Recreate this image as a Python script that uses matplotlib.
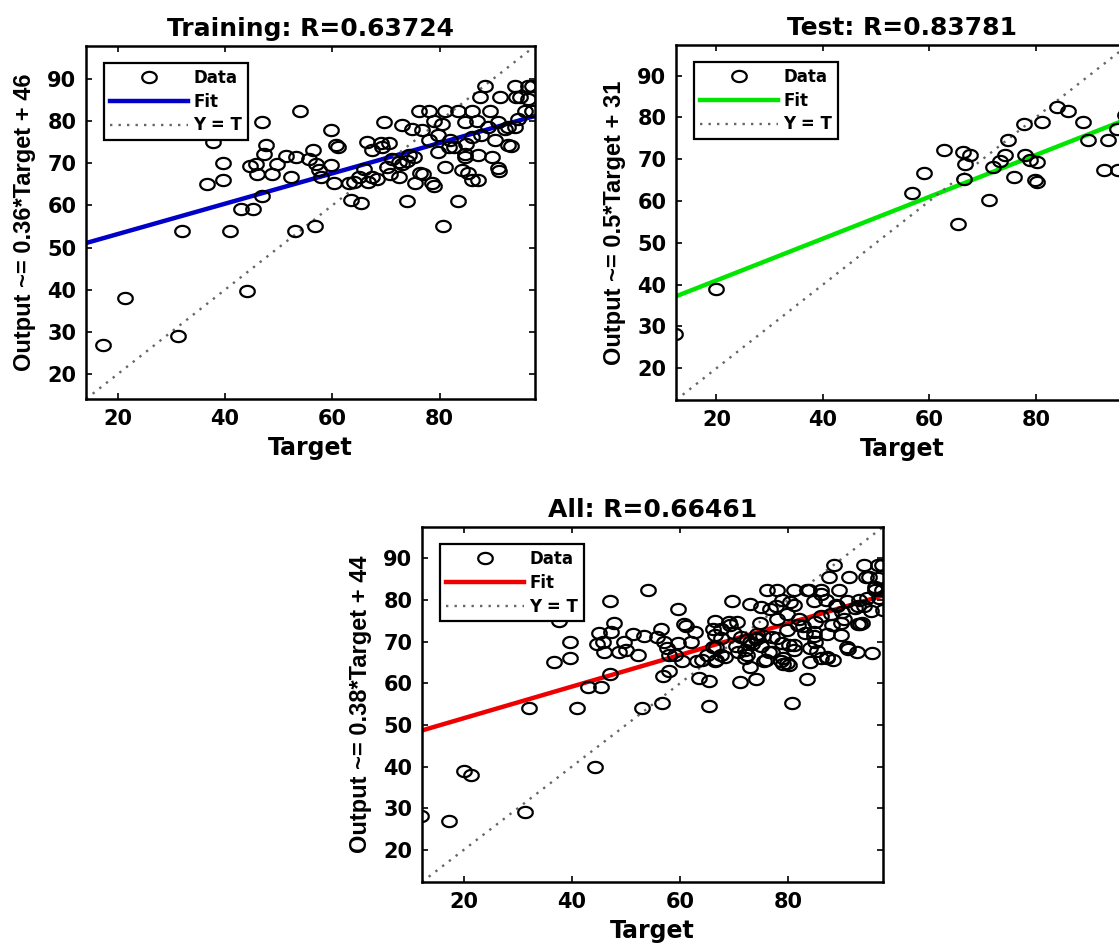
import numpy as np
import matplotlib

matplotlib.use('Agg')
from matplotlib import pyplot as plt  # noqa: E402

# training set (target, output)
train_target = [17.3, 21.3, 31.3, 32.0, 44.2, 41.0, 36.7, 37.7, 39.7, 39.7,
                43.0, 45.3, 47.0, 47.0, 47.7, 47.3, 44.7, 45.7, 46.0, 48.7,
                49.7, 51.3, 53.3, 52.3, 54.0, 53.0, 56.7, 55.7, 56.4, 57.0,
                57.6, 58.0, 59.7, 60.7, 59.7, 60.3, 63.5, 63.1, 65.3, 65.0,
                66.5, 66.0, 67.5, 67.5, 66.7, 69.0, 69.6, 70.6, 69.3, 70.3,
                70.7, 71.2, 72.4, 72.4, 73.0, 74.0, 74.3, 74.9, 75.3, 75.5,
                76.1, 76.4, 76.7, 78.0, 78.0, 78.6, 78.9, 79.0, 79.8, 79.8,
                80.4, 80.7, 81.0, 81.0, 81.7, 82.0, 83.5, 83.5, 84.1, 84.7,
                84.7, 84.8, 85.3, 86.0, 86.0, 86.0, 86.9, 87.2, 87.2, 87.5,
                87.8, 88.5, 89.4, 89.7, 90.3, 90.9, 90.9, 91.2, 92.3, 92.8,
                92.8, 93.3, 94.0, 94.3, 94.6, 95.0, 96.0, 96.5, 96.5, 97.3,
                97.3, 91.0, 77.0, 64.0, 61.0, 68.3, 73.0, 74.0, 82.7, 85.0,
                89.0, 94.0]
train_output = [27.0, 38.0, 29.0, 54.0, 39.8, 54.0, 65.0, 75.0, 70.0, 66.0,
                59.2, 59.2, 62.3, 79.7, 74.4, 72.2, 69.4, 69.8, 67.5, 67.5,
                69.8, 71.8, 71.4, 66.7, 82.5, 54.0, 55.2, 71.0, 73.1, 69.8,
                68.4, 66.7, 77.8, 74.3, 69.6, 65.3, 61.3, 65.3, 60.6, 66.8,
                75.0, 68.6, 66.8, 73.1, 65.5, 74.7, 79.7, 74.7, 73.9, 69.0,
                67.5, 71.1, 70.3, 66.8, 79.0, 61.0, 71.9, 78.2, 71.4, 65.3,
                82.5, 67.6, 77.8, 82.5, 75.4, 65.3, 80.1, 64.7, 72.7, 76.6,
                79.4, 55.2, 82.5, 69.2, 73.9, 75.4, 82.5, 61.0, 68.4, 79.7,
                71.4, 72.3, 67.8, 82.5, 76.2, 66.0, 80.1, 71.9, 66.0, 85.6,
                76.6, 88.4, 82.5, 71.5, 75.4, 79.7, 68.8, 85.6, 78.1, 78.6,
                74.3, 74.2, 88.4, 85.6, 80.5, 85.6, 82.5, 88.4, 85.2, 88.4,
                82.5, 68.2, 67.5, 65.5, 73.8, 66.3, 69.8, 70.6, 73.8, 74.6,
                78.5, 78.5]

# validation set (only visible in the "All" panel)
val_target = [62.0, 66.0, 70.0, 72.0, 75.0, 77.0, 79.0, 81.0, 83.0, 85.0,
              88.0, 90.0, 93.0, 96.0, 50.0, 45.0, 58.0, 73.0, 97.5, 84.0,
              87.1, 88.3]
val_output = [70.0, 73.0, 72.0, 66.0, 69.0, 71.0, 66.0, 68.0, 72.0, 70.0,
              74.0, 77.0, 80.0, 83.0, 68.0, 72.0, 63.0, 64.0, 77.6, 65.0,
              66.4, 65.6]

# test set
test_target = [12.2, 20.0, 56.8, 59.0, 62.7, 65.4, 66.4, 67.6, 66.7, 66.5,
               71.1, 72.0, 73.3, 74.2, 74.8, 75.8, 77.8, 78.0, 78.9, 79.8,
               80.2, 81.1, 80.2, 83.9, 86.1, 88.9, 89.8, 92.7, 93.6, 95.2,
               95.5, 96.8]
test_output = [28.2, 38.9, 61.8, 66.7, 72.3, 54.6, 71.7, 70.9, 68.8, 65.3,
               60.2, 68.1, 69.5, 70.9, 74.5, 65.7, 78.5, 70.9, 69.7, 64.9,
               64.5, 78.9, 69.3, 82.4, 81.4, 78.9, 74.5, 67.5, 74.5, 77.3,
               67.3, 80.5]

all_target = train_target + val_target + test_target
all_output = train_output + val_output + test_output

titles = ['Training: R=0.63724', 'Test: R=0.83781', 'All: R=0.66461']
ylabels = ['Output ~= 0.36*Target + 46', 'Output ~= 0.5*Target + 31',
           'Output ~= 0.38*Target + 44']
fit_slope = [0.36, 0.5, 0.38]
fit_intercept = [46, 31, 44]
limits = [(14.1, 97.8), (12.4, 97.3), (12.3, 97.5)]
x_ticks = [20, 40, 60, 80]
y_ticks = [20, 30, 40, 50, 60, 70, 80, 90]

FIG_W, FIG_H = 1119, 944
# axes boxes in pixels: left, top, right, bottom
boxes = [(86, 46, 535, 399), (676, 45, 1128, 400), (422, 527, 883, 882)]
fit_colors = ['#0000c8', '#00e600', '#ee0000']

# slightly wide open circle, like the stretched original
theta = np.linspace(0, 2 * np.pi, 48)
ellipse = list(zip(1.3 * np.cos(theta), np.sin(theta)))

fig = plt.figure(figsize=(FIG_W / 100, FIG_H / 100), dpi=100)

datasets = [(train_target, train_output), (test_target, test_output),
            (all_target, all_output)]

for i, (target, output) in enumerate(datasets):
    left, top, right, bottom = boxes[i]
    w_px, h_px = right - left, bottom - top
    ax = fig.add_axes([left / FIG_W, 1 - bottom / FIG_H, w_px / FIG_W, h_px / FIG_H])
    lo, hi = limits[i]
    xs = np.array([lo, hi])

    ax.plot(target, output, linestyle='none', marker=ellipse, markersize=10.5,
            markerfacecolor='none', markeredgecolor='black', markeredgewidth=1.6,
            label='Data', zorder=3)
    ax.plot(xs, fit_slope[i] * xs + fit_intercept[i], color=fit_colors[i],
            linewidth=3.2, label='Fit', zorder=2)
    ax.plot(xs, xs, color='0.4', linewidth=1.7, linestyle=(0, (1, 2.6)),
            label='Y = T', zorder=2)

    ax.set_xlim(lo, hi)
    ax.set_ylim(lo, hi)
    ax.set_xticks(x_ticks)
    ax.set_yticks(y_ticks)
    ax.tick_params(direction='in', top=True, right=True, length=4, width=1.2,
                   labelsize=15, pad=7)
    for lab in ax.get_xticklabels() + ax.get_yticklabels():
        lab.set_fontweight('bold')
    for spine in ax.spines.values():
        spine.set_linewidth(1.8)

    ax.set_title(titles[i], fontsize=18, fontweight='bold', pad=7)
    ax.set_xlabel('Target', fontsize=17, fontweight='bold')
    ax.xaxis.set_label_coords(0.5, -37 / h_px)
    ax.set_ylabel(ylabels[i], fontsize=17, fontweight='bold',
                  family=['Liberation Sans', 'DejaVu Sans'])
    ax.yaxis.set_label_coords(-50 / w_px, 0.5)

    leg = ax.legend(loc='upper left', bbox_to_anchor=(18 / w_px, 1 - 17 / h_px),
                    borderaxespad=0, handlelength=4.7, handletextpad=0.3,
                    labelspacing=0.35, borderpad=0.35, numpoints=1,
                    fancybox=False, framealpha=1, edgecolor='black',
                    prop={'size': 12, 'weight': 'bold'})
    leg.get_frame().set_linewidth(1.6)

fig.savefig('out.png', dpi=100)
plt.close(fig)
